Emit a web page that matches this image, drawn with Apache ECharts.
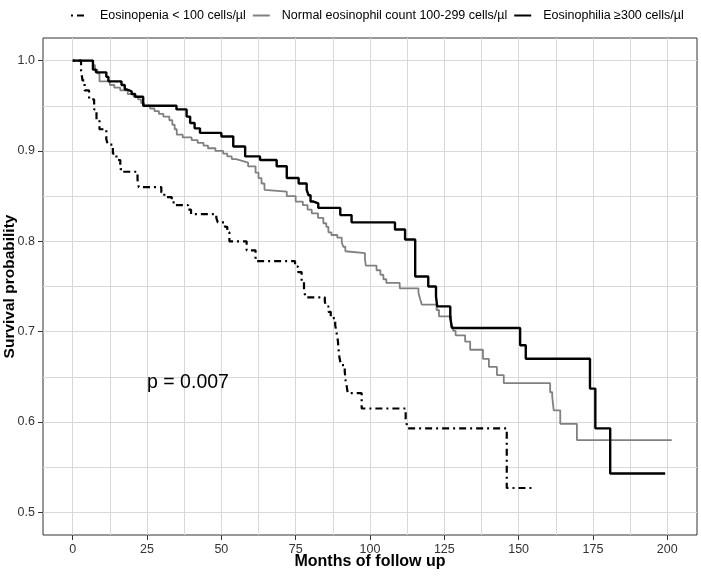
<!DOCTYPE html>
<html>
<head>
<meta charset="utf-8">
<script src="https://cdn.jsdelivr.net/npm/echarts@6/dist/echarts.min.js"></script>
<style>
html,body{margin:0;padding:0;background:#fff;}
#chart{width:701px;height:576px;}
</style>
</head>
<body>
<div id="chart"></div>
<script>
// ---- data ----
const seriesNames = [
  'Eosinopenia < 100 cells/\u00b5l',
  'Normal eosinophil count 100-299 cells/\u00b5l',
  'Eosinophilia \u2265300 cells/\u00b5l'
];

const eosinopeniaTime = [0, 2.8, 3.3, 4.0, 5.5, 7.2, 8.0, 9.0, 11.3, 11.8, 13.5, 14.7, 16.0, 16.8, 21.8, 22.2, 29.8, 30.8, 33.3, 34.5, 38.8, 39.8, 48.3, 48.8, 51.2, 52.0, 52.7, 58.5, 61.5, 74.8, 75.8, 77.0, 77.8, 78.3, 84.8, 85.3, 86.0, 86.8, 88.3, 88.8, 89.2, 89.4, 89.7, 90.2, 91.5, 91.8, 92.2, 92.5, 97.2, 112.0, 112.6, 146.0, 154.4];
const eosinopeniaSurv = [1.0, 0.989, 0.978, 0.967, 0.957, 0.946, 0.935, 0.924, 0.913, 0.907, 0.897, 0.890, 0.880, 0.877, 0.868, 0.860, 0.854, 0.849, 0.843, 0.840, 0.835, 0.830, 0.826, 0.821, 0.816, 0.810, 0.800, 0.790, 0.778, 0.772, 0.766, 0.755, 0.746, 0.738, 0.733, 0.728, 0.722, 0.715, 0.707, 0.698, 0.690, 0.681, 0.672, 0.663, 0.656, 0.646, 0.639, 0.632, 0.615, 0.604, 0.593, 0.527, 0.527];

const normalTime = [0, 6.8, 7.5, 8.3, 9.0, 12.5, 14.0, 16.0, 18.5, 20.5, 22.0, 23.0, 24.0, 26.0, 27.5, 29.0, 30.5, 32.5, 33.5, 34.3, 35.0, 37.0, 40.0, 42.0, 44.0, 45.5, 48.0, 50.6, 52.0, 53.5, 55.0, 57.0, 59.0, 61.5, 62.5, 63.5, 64.5, 65.0, 72.0, 75.0, 77.4, 79.0, 80.4, 82.5, 84.3, 85.3, 86.0, 87.0, 89.0, 90.5, 91.0, 91.7, 92.0, 98.3, 98.6, 102.2, 103.5, 104.5, 105.5, 110.0, 116.3, 116.8, 117.4, 122.4, 123.2, 127.3, 128.0, 128.8, 132.0, 133.7, 138.0, 140.0, 142.7, 145.0, 160.6, 161.3, 161.8, 164.0, 169.6, 201.5];
const normalSurv = [1.0, 0.995, 0.990, 0.986, 0.977, 0.973, 0.970, 0.967, 0.963, 0.960, 0.957, 0.953, 0.950, 0.947, 0.944, 0.941, 0.938, 0.934, 0.929, 0.924, 0.918, 0.915, 0.912, 0.909, 0.906, 0.903, 0.900, 0.897, 0.894, 0.891, 0.889, 0.887, 0.883, 0.876, 0.870, 0.864, 0.857, 0.855, 0.850, 0.844, 0.840, 0.835, 0.831, 0.826, 0.820, 0.816, 0.810, 0.807, 0.804, 0.799, 0.794, 0.789, 0.787, 0.780, 0.773, 0.768, 0.763, 0.758, 0.754, 0.748, 0.743, 0.737, 0.730, 0.724, 0.717, 0.705, 0.701, 0.696, 0.689, 0.680, 0.670, 0.661, 0.652, 0.643, 0.633, 0.628, 0.613, 0.598, 0.580, 0.580];

const eosinophiliaTime = [0, 6.8, 7.8, 11.3, 12.0, 16.4, 17.5, 18.3, 19.8, 21.0, 23.7, 34.9, 38.3, 39.5, 41.0, 42.8, 50.0, 54.0, 58.0, 63.0, 68.6, 72.0, 76.0, 78.7, 79.3, 80.0, 81.0, 82.6, 90.0, 93.8, 108.4, 111.8, 115.2, 119.6, 122.2, 122.6, 127.0, 127.6, 150.5, 152.4, 174.0, 175.8, 180.8, 199.3];
const eosinophiliaSurv = [1.0, 0.990, 0.987, 0.982, 0.977, 0.973, 0.968, 0.966, 0.963, 0.960, 0.950, 0.946, 0.938, 0.931, 0.925, 0.920, 0.916, 0.905, 0.894, 0.890, 0.883, 0.870, 0.864, 0.857, 0.851, 0.844, 0.842, 0.837, 0.829, 0.821, 0.813, 0.802, 0.761, 0.750, 0.739, 0.728, 0.715, 0.704, 0.685, 0.670, 0.637, 0.593, 0.543, 0.543];

const xTickLabels = [0, 25, 50, 75, 100, 125, 150, 175, 200];
const yTickLabels = [0.5, 0.6, 0.7, 0.8, 0.9, 1.0];
const xGridValues = [0, 12.5, 25, 37.5, 50, 62.5, 75, 87.5, 100, 112.5, 125, 137.5, 150, 162.5, 175, 187.5, 200];
const yGridValues = [0.5, 0.55, 0.6, 0.65, 0.7, 0.75, 0.8, 0.85, 0.9, 0.95, 1.0];
const pValueText = 'p = 0.007';
const pValuePos = [25, 0.644];

// ---- chart ----
const FONT = "'Liberation Sans', Arial, sans-serif";
const pair = (ts, ss) => ts.map((t, i) => [t, ss[i]]);
const chart = echarts.init(document.getElementById('chart'), null, {renderer: 'canvas'});

const gridColor = '#d9d9d9';
const axisDark = '#333333';

const option = {
  animation: false,
  backgroundColor: '#ffffff',
  textStyle: {fontFamily: FONT},
  legend: {
    left: 70, top: 9, width: 631, padding: 0,
    itemWidth: 17, itemHeight: 14, itemGap: 6,
    data: seriesNames,
    itemStyle: {opacity: 0},
    textStyle: {fontFamily: FONT, fontSize: 12.5, color: '#000', padding: [0, 0, 0, 7]}
  },
  grid: {left: 43, right: 4, top: 38, bottom: 41, outerBoundsMode: 'none', containLabel: false,
    show: true, borderColor: axisDark, borderWidth: 1, backgroundColor: 'transparent'},
  xAxis: [
    {
      type: 'value', min: -10, max: 210, gridIndex: 0,
      axisLine: {show: false, onZero: false}, axisLabel: {show: false},
      axisTick: {show: false, customValues: xGridValues},
      splitLine: {show: true, lineStyle: {color: gridColor, width: 1}}
    },
    {
      type: 'value', min: -10, max: 210, gridIndex: 0, position: 'bottom', offset: 0,
      name: 'Months of follow up', nameLocation: 'middle', nameGap: 27, nameMoveOverlap: false,
      nameTextStyle: {fontFamily: FONT, fontSize: 16, fontWeight: 'bold', color: '#000', verticalAlign: 'middle'},
      axisLine: {show: false, onZero: false},
      axisTick: {show: true, length: 5, customValues: xTickLabels, lineStyle: {color: axisDark}},
      axisLabel: {show: true, customValues: xTickLabels, fontSize: 12.5, color: axisDark, margin: 8, fontFamily: FONT},
      splitLine: {show: false}
    }
  ],
  yAxis: [
    {
      type: 'value', min: 0.475, max: 1.025, gridIndex: 0,
      axisLine: {show: false, onZero: false}, axisLabel: {show: false},
      axisTick: {show: false, customValues: yGridValues},
      splitLine: {show: true, lineStyle: {color: gridColor, width: 1}}
    },
    {
      type: 'value', min: 0.475, max: 1.025, gridIndex: 0, position: 'left', offset: 0,
      name: 'Survival probability', nameLocation: 'middle', nameGap: 33.5, nameRotate: 90, nameMoveOverlap: false,
      nameTextStyle: {fontFamily: FONT, fontSize: 15.5, fontWeight: 'bold', color: '#000', verticalAlign: 'middle'},
      axisLine: {show: false, onZero: false},
      axisTick: {show: true, length: 5, customValues: yTickLabels, lineStyle: {color: axisDark}},
      axisLabel: {show: true, customValues: yTickLabels, fontSize: 12.5, color: axisDark, margin: 8, fontFamily: FONT,
        formatter: v => Number(v).toFixed(1)},
      splitLine: {show: false}
    }
  ],
  series: [
    {
      name: seriesNames[0], type: 'line', step: 'end', xAxisIndex: 0, yAxisIndex: 0,
      showSymbol: false, symbol: 'none', z: 4,
      lineStyle: {color: '#000', width: 2.2, type: [7, 4, 2, 4], dashOffset: 11, cap: 'butt'},
      itemStyle: {color: '#000'},
      data: pair(eosinopeniaTime, eosinopeniaSurv)
    },
    {
      name: seriesNames[1], type: 'line', step: 'end', xAxisIndex: 0, yAxisIndex: 0,
      showSymbol: false, symbol: 'none', z: 3,
      lineStyle: {color: '#808080', width: 1.8},
      itemStyle: {color: '#808080'},
      data: pair(normalTime, normalSurv)
    },
    {
      name: seriesNames[2], type: 'line', step: 'end', xAxisIndex: 0, yAxisIndex: 0,
      showSymbol: false, symbol: 'none', z: 5,
      lineStyle: {color: '#000', width: 2.4},
      itemStyle: {color: '#000'},
      data: pair(eosinophiliaTime, eosinophiliaSurv)
    }
  ]
};
chart.setOption(option);

const pp = chart.convertToPixel({xAxisIndex: 0, yAxisIndex: 0}, pValuePos);
chart.setOption({
  graphic: [{
    type: 'text', x: pp[0], y: pp[1], z: 10,
    style: {text: pValueText, fontFamily: FONT, fontSize: 19.5, fill: '#000', textAlign: 'left', textVerticalAlign: 'middle'}
  }]
});
</script>
</body>
</html>
